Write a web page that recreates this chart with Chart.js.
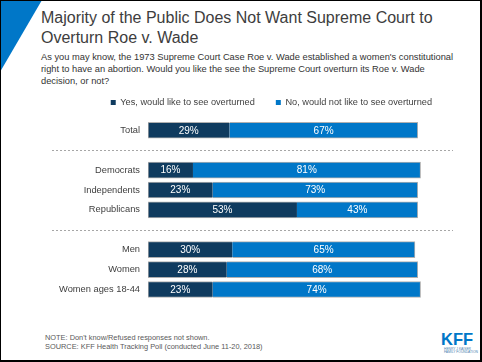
<!DOCTYPE html>
<html>
<head>
<meta charset="utf-8">
<script src="https://cdn.jsdelivr.net/npm/chart.js@4"></script>
<style>
  html, body { margin: 0; padding: 0; background: #fff; }
  body { width: 482px; height: 362px; position: relative; overflow: hidden; font-family: "Liberation Sans", Arial, sans-serif; }
  #frame { position: absolute; left: 0; top: 0; width: 482px; height: 362px; box-sizing: border-box; border: 1px solid #000; border-right-width: 2px; border-bottom-width: 2px; pointer-events: none; }
  #corner { position: absolute; left: 0; top: 0; width: 42px; height: 72px; background: #0077c8; clip-path: polygon(0 0, 100% 0, 0 100%); }
  #title { position: absolute; left: 41px; top: 7.8px; font-size: 16px; line-height: 20px; color: #3d3d3d; white-space: nowrap; }
  #sub { position: absolute; left: 41px; top: 50.8px; font-size: 9.3px; line-height: 12px; color: #333; white-space: nowrap; }
  #note { position: absolute; left: 45px; top: 332.6px; font-size: 7.4px; line-height: 9.7px; color: #595959; white-space: nowrap; }
  #logo { position: absolute; left: 441px; top: 331px; color: #0077c8; }
  #logo .kff { font-weight: bold; font-size: 16.5px; line-height: 16.5px; }
  #logo .org { font-size: 3.3px; line-height: 3.5px; color: #4a7fb0; margin-left: 3px; white-space: nowrap; }
  #chart { position: absolute; left: 0; top: 77px; }
</style>
</head>
<body>
<div id="corner"></div>
<div id="title">Majority of the Public Does Not Want Supreme Court to<br>Overturn Roe v. Wade</div>
<div id="sub">As you may know, the 1973 Supreme Court Case Roe v. Wade established a women's constitutional<br>right to have an abortion. Would you like the see the Supreme Court overturn its Roe v. Wade<br>decision, or not?</div>
<canvas id="chart" width="482" height="236"></canvas>
<div id="note">NOTE: Don't know/Refused responses not shown.<br>SOURCE: KFF Health Tracking Poll (conducted June 11-20, 2018)</div>
<div id="logo"><div class="kff">KFF</div><div class="org">HENRY J KAISER<br>FAMILY FOUNDATION</div></div>
<div id="frame"></div>
<script>
const categories = ['Total', '', 'Democrats', 'Independents', 'Republicans', '', 'Men', 'Women', 'Women ages 18-44'];
const yesValues = [29, null, 16, 23, 53, null, 30, 28, 23];
const noValues = [67, null, 81, 73, 43, null, 65, 68, 74];
const seriesNames = ['Yes, would like to see overturned', 'No, would not like to see overturned'];

const family = '"Liberation Sans", Arial, sans-serif';

// white % labels in the middle of each segment
const barLabels = {
    id: 'barLabels',
    afterDatasetsDraw(chart) {
        const ctx = chart.ctx;
        ctx.save();
        ctx.font = '10px ' + family;
        ctx.fillStyle = '#fff';
        ctx.textAlign = 'center';
        ctx.textBaseline = 'middle';
        chart.data.datasets.forEach((ds, i) => {
            chart.getDatasetMeta(i).data.forEach((bar, j) => {
                const v = ds.data[j];
                if (v == null) return;
                const p = bar.getProps(['x', 'y', 'base'], true);
                ctx.fillText(v + '%', (p.x + p.base) / 2, p.y + 0.5);
            });
        });
        ctx.restore();
    }
};

// dashed separators in the empty rows
const dividers = {
    id: 'dividers',
    afterDraw(chart) {
        const ctx = chart.ctx;
        const yScale = chart.scales.y;
        ctx.save();
        ctx.strokeStyle = '#a6a6a6';
        ctx.lineWidth = 1;
        ctx.setLineDash([2, 2]);
        categories.forEach((c, i) => {
            if (c !== '') return;
            const y = Math.round(yScale.getPixelForValue(i)) + 0.5;
            ctx.beginPath();
            ctx.moveTo(52, y);
            ctx.lineTo(453, y);
            ctx.stroke();
        });
        ctx.restore();
    }
};

new Chart(document.getElementById('chart'), {
    type: 'bar',
    data: {
        labels: categories,
        datasets: [
            {
                label: seriesNames[0], data: yesValues, backgroundColor: '#0f3b5f',
                borderColor: '#b0b0b0', borderWidth: { top: 1, bottom: 1, left: 1, right: 0 },
                borderSkipped: false, barThickness: 16
            },
            {
                label: seriesNames[1], data: noValues, backgroundColor: '#0077c8',
                borderColor: '#b0b0b0', borderWidth: { top: 1, bottom: 1, left: 0, right: 1 },
                borderSkipped: false, barThickness: 16
            }
        ]
    },
    options: {
        responsive: false,
        animation: false,
        indexAxis: 'y',
        layout: { padding: { left: 50, right: 29, top: 0, bottom: 0 } },
        scales: {
            x: {
                stacked: true, min: 0, max: 100, position: 'top',
                grid: { display: false, drawTicks: false },
                border: { display: false },
                ticks: { display: false },
                afterFit(s) { s.height = 3.1; }
            },
            y: {
                stacked: true,
                grid: { display: false, drawTicks: false },
                border: { display: false },
                ticks: { color: '#404040', font: { size: 9.3, family: family }, padding: 8, autoSkip: false },
                afterFit(s) { s.width = 98; }
            },
            // empty strip on the right so the bars stop short of the legend edge
            y2: {
                type: 'category', position: 'right',
                grid: { display: false, drawTicks: false },
                border: { display: false },
                ticks: { display: false },
                afterFit(s) { s.width = 24; }
            }
        },
        plugins: {
            legend: {
                align: 'end',
                labels: {
                    boxWidth: 5, boxHeight: 5, padding: 21, color: '#404040', font: { size: 9.2, family: family },
                    generateLabels(chart) {
                        return chart.data.datasets.map((ds, i) => ({
                            text: ds.label, fillStyle: ds.backgroundColor, strokeStyle: ds.backgroundColor,
                            lineWidth: 0, hidden: false, datasetIndex: i, fontColor: '#404040'
                        }));
                    }
                }
            },
            tooltip: { enabled: false }
        }
    },
    plugins: [barLabels, dividers]
});
</script>
</body>
</html>
